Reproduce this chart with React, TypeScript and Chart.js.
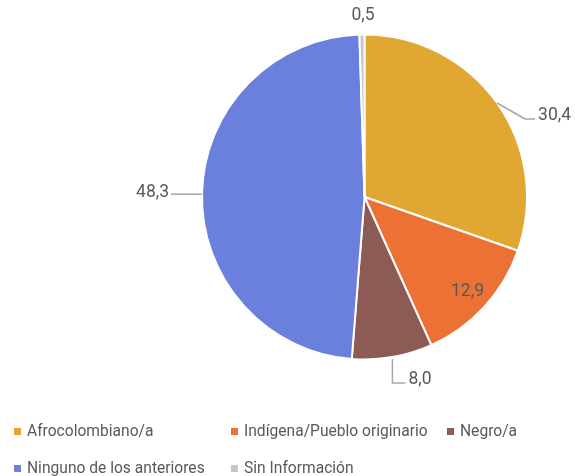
import React, { useEffect, useRef } from "react";
import { Chart, registerables } from "chart.js";

Chart.register(...registerables);

const categories = [
  "Afrocolombiano/a",
  "Indígena/Pueblo originario",
  "Negro/a",
  "Ninguno de los anteriores",
  "Sin Información",
];
const values = [30.4, 12.9, 8.0, 48.3, 0.5];
const valueLabels = ["30,4", "12,9", "8,0", "48,3", "0,5"];
const colors = ["#E1A733", "#EB7134", "#8C5B56", "#6B7FDD", "#C6C6C6"];

const FONT = "Roboto, 'Noto Sans', sans-serif";
const TEXT = "#595959";
const LINE = "#A6A6A6";

// label placement style per slice (layout only)
type Place = { kind: "elbowRight" | "downRight" | "left" | "top" | "inside" };
const placements: Place[] = [
  { kind: "elbowRight" },
  { kind: "inside" },
  { kind: "downRight" },
  { kind: "left" },
  { kind: "top" },
];

const labelPlugin = {
  id: "sliceLabels",
  afterDatasetsDraw(chart: any) {
    const ctx = chart.ctx;
    const meta = chart.getDatasetMeta(0);
    ctx.save();
    ctx.font = `17.5px ${FONT}`;
    ctx.fillStyle = TEXT;
    ctx.strokeStyle = LINE;
    ctx.lineWidth = 1.5;
    meta.data.forEach((arc: any, i: number) => {
      const { x, y, startAngle, endAngle, outerRadius } = arc.getProps(
        ["x", "y", "startAngle", "endAngle", "outerRadius"],
        true
      );
      const mid = (startAngle + endAngle) / 2;
      const ex = x + Math.cos(mid) * outerRadius;
      const ey = y + Math.sin(mid) * outerRadius;
      const txt = valueLabels[i];
      const kind = placements[i].kind;
      ctx.textBaseline = "middle";
      if (kind === "inside") {
        const r = outerRadius * 0.86;
        ctx.textAlign = "center";
        ctx.fillText(txt, x + Math.cos(mid) * r, y + Math.sin(mid) * r);
      } else if (kind === "elbowRight") {
        ctx.beginPath();
        ctx.moveTo(ex, ey);
        ctx.lineTo(ex + 28, ey + 16);
        ctx.lineTo(ex + 38, ey + 16);
        ctx.stroke();
        ctx.textAlign = "left";
        ctx.fillText(txt, ex + 41, ey + 13);
      } else if (kind === "downRight") {
        ctx.beginPath();
        ctx.moveTo(ex, ey + 2);
        ctx.lineTo(ex, ey + 26);
        ctx.lineTo(ex + 13, ey + 26);
        ctx.stroke();
        ctx.textAlign = "left";
        ctx.fillText(txt, ex + 16, ey + 23);
      } else if (kind === "left") {
        ctx.beginPath();
        ctx.moveTo(ex, ey + 1);
        ctx.lineTo(ex - 31, ey + 1);
        ctx.stroke();
        ctx.textAlign = "right";
        ctx.fillText(txt, ex - 33, ey - 1);
      } else if (kind === "top") {
        ctx.textAlign = "center";
        ctx.fillText(txt, ex + 1, ey - 19);
      }
    });
    ctx.restore();
  },
};

const legendRows = [
  [0, 1, 2],
  [3, 4],
];
const legendCols = [14, 231, 447];

export default function App() {
  const ref = useRef<HTMLCanvasElement>(null);
  useEffect(() => {
    if (!ref.current) return;
    const chart = new Chart(ref.current, {
      type: "pie",
      data: {
        labels: categories,
        datasets: [
          {
            data: values,
            backgroundColor: colors,
            borderColor: "#FFFFFF",
            borderWidth: 2,
          },
        ],
      },
      options: {
        responsive: false,
        animation: false,
        layout: { padding: { top: 33, bottom: 115, left: 201, right: 47 } },
        plugins: { legend: { display: false }, tooltip: { enabled: false } },
      },
      plugins: [labelPlugin],
    });
    return () => chart.destroy();
  }, []);

  return (
    <div
      style={{
        position: "absolute",
        left: 0,
        top: 0,
        width: 575,
        height: 476,
        background: "#FFFFFF",
        overflow: "hidden",
      }}
    >
      <canvas ref={ref} width={575} height={476} />
      {legendRows.map((row, ri) =>
        row.map((idx, ci) => (
          <div
            key={idx}
            style={{
              position: "absolute",
              left: legendCols[ci],
              top: ri === 0 ? 421 : 458,
              height: 20,
              display: "flex",
              alignItems: "center",
              fontFamily: FONT,
              fontSize: 15.6,
              color: TEXT,
              whiteSpace: "nowrap",
            }}
          >
            <span
              style={{
                display: "inline-block",
                width: 7,
                height: 7,
                background: colors[idx],
                marginRight: 6,
              }}
            />
            {categories[idx]}
          </div>
        ))
      )}
    </div>
  );
}
